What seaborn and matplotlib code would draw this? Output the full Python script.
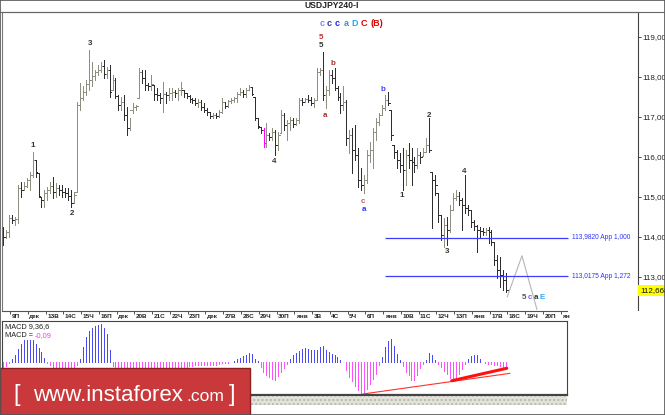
"""USDJPY H4 bar chart with Elliott wave marks and a MACD panel."""

import numpy as np
import matplotlib
matplotlib.use("Agg")
import matplotlib.pyplot as plt
import seaborn as sns
from matplotlib.patches import Rectangle
from matplotlib.lines import Line2D

W, H = 665, 415

# H4 bars
highs = [
    114.25, 114.18, 114.55, 114.55, 114.50, 115.30, 115.38, 115.38, 115.48, 115.63,
    116.13, 115.93, 115.60, 115.00, 115.18, 115.25, 115.38, 115.50, 115.35, 115.30,
    115.30, 115.23, 115.23, 115.18, 115.13, 117.38, 117.85, 117.78, 117.93, 118.68,
    118.38, 118.18, 118.30, 118.38, 118.43, 118.25, 118.30, 118.05, 117.98, 117.55,
    117.50, 117.55, 117.25, 116.98, 117.35, 117.30, 118.23, 118.18, 118.18, 117.85,
    118.05, 117.80, 117.73, 117.60, 117.88, 117.63, 117.73, 117.73, 117.68, 117.73,
    117.88, 117.68, 117.60, 117.55, 117.48, 117.48, 117.45, 117.43, 117.35, 117.23,
    117.13, 117.10, 117.10, 117.18, 117.48, 117.38, 117.43, 117.48, 117.50, 117.63,
    117.73, 117.68, 117.73, 117.80, 117.75, 117.50, 116.98, 116.75, 116.73, 116.85,
    116.60, 116.73, 116.68, 116.63, 117.18, 117.10, 116.93, 117.00, 116.98, 116.98,
    117.48, 117.48, 117.48, 117.55, 117.50, 117.48, 118.23, 118.23, 118.63, 117.78,
    118.18, 118.18, 118.23, 117.78, 117.60, 117.78, 117.43, 116.68, 116.73, 116.80,
    116.23, 115.73, 115.55, 116.18, 116.38, 116.73, 116.98, 117.10, 117.30, 117.55,
    117.63, 117.18, 116.30, 116.18, 116.10, 116.23, 116.18, 116.35, 116.23, 116.00,
    116.23, 116.13, 116.23, 116.48, 116.98, 115.63, 115.55, 115.10, 114.55, 114.48,
    114.50, 114.80, 115.10, 115.18, 115.13, 114.98, 115.55, 114.80, 114.68, 114.43,
    114.30, 114.25, 114.23, 114.23, 114.25, 114.18, 113.88, 113.55, 113.50, 113.18,
    113.10,
]
lows = [
    113.80, 113.98, 114.00, 114.35, 114.30, 114.35, 115.00, 115.18, 115.25, 115.18,
    115.50, 115.50, 115.00, 114.75, 114.75, 114.93, 115.10, 114.98, 115.00, 115.05,
    115.00, 115.00, 114.93, 114.75, 114.85, 115.13, 117.18, 117.43, 117.55, 117.68,
    117.78, 117.93, 118.05, 118.13, 117.98, 117.98, 117.50, 117.68, 117.48, 117.18,
    117.18, 116.93, 116.55, 116.68, 117.10, 117.18, 117.48, 117.85, 117.68, 117.68,
    117.68, 117.43, 117.43, 117.35, 117.13, 117.35, 117.43, 117.43, 117.50, 117.43,
    117.55, 117.50, 117.48, 117.38, 117.35, 117.30, 117.25, 117.18, 117.13, 117.05,
    116.98, 116.98, 116.98, 117.00, 117.10, 117.23, 117.25, 117.35, 117.38, 117.38,
    117.55, 117.50, 117.50, 117.68, 117.55, 116.93, 116.73, 116.60, 116.25, 116.25,
    116.43, 116.43, 116.05, 116.18, 116.60, 116.68, 116.43, 116.68, 116.75, 116.80,
    116.85, 117.30, 117.38, 117.38, 117.30, 117.25, 117.43, 118.05, 117.43, 117.23,
    117.55, 117.85, 117.68, 117.43, 117.10, 117.18, 116.30, 116.10, 115.60, 115.93,
    115.25, 115.18, 115.10, 115.35, 115.88, 115.73, 116.43, 116.80, 117.05, 117.18,
    117.30, 116.43, 115.98, 115.73, 115.63, 115.18, 115.30, 115.73, 115.30, 115.63,
    115.73, 115.85, 116.03, 116.13, 116.13, 114.23, 115.05, 114.38, 113.93, 113.75,
    113.80, 114.13, 114.68, 114.93, 114.80, 114.18, 114.60, 114.55, 114.25, 114.18,
    113.63, 114.00, 114.05, 114.05, 113.85, 113.80, 113.30, 112.98, 112.75, 112.68,
    112.63,
]
closes = [
    114.00, 114.13, 114.48, 114.43, 114.45, 115.23, 115.18, 115.28, 115.43, 115.55,
    115.93, 115.63, 115.03, 114.93, 115.10, 115.18, 115.28, 115.13, 115.23, 115.18,
    115.13, 115.10, 115.03, 114.85, 115.05, 117.30, 117.48, 117.63, 117.83, 117.93,
    118.03, 118.13, 118.18, 118.28, 118.08, 118.18, 117.63, 117.93, 117.53, 117.30,
    117.38, 117.05, 116.73, 117.18, 117.25, 117.28, 118.13, 117.98, 117.80, 117.78,
    117.83, 117.58, 117.55, 117.48, 117.58, 117.55, 117.60, 117.63, 117.60, 117.68,
    117.73, 117.60, 117.53, 117.45, 117.43, 117.35, 117.38, 117.25, 117.18, 117.13,
    117.03, 117.05, 117.03, 117.13, 117.38, 117.28, 117.40, 117.43, 117.48, 117.58,
    117.63, 117.58, 117.68, 117.75, 117.58, 116.98, 116.78, 116.68, 116.35, 116.55,
    116.50, 116.63, 116.30, 116.55, 117.05, 116.80, 116.85, 116.93, 116.83, 116.93,
    117.43, 117.38, 117.45, 117.43, 117.35, 117.43, 118.13, 118.18, 117.55, 117.68,
    118.05, 117.98, 117.73, 117.50, 117.30, 117.38, 116.48, 116.55, 116.18, 116.05,
    115.43, 115.30, 115.43, 116.05, 116.18, 116.63, 116.88, 117.05, 117.23, 117.43,
    117.35, 116.55, 116.13, 115.93, 115.80, 115.68, 116.05, 115.93, 115.88, 115.80,
    116.05, 116.00, 116.13, 116.30, 116.18, 115.43, 115.30, 114.55, 114.05, 114.30,
    114.18, 114.68, 114.98, 115.03, 114.93, 114.80, 114.73, 114.68, 114.38, 114.28,
    114.18, 114.15, 114.13, 114.18, 114.13, 113.88, 113.43, 113.18, 113.05, 112.93,
    112.668,
]
first_open = 114.20
magenta_bar = 88

# MACD histogram
macd = [
    -0.06, -0.05, -0.01, 0.04, 0.09, 0.17, 0.23, 0.28, 0.28, 0.28,
    0.28, 0.23, 0.18, 0.13, 0.05, -0.01, -0.04, -0.06, -0.09, -0.12,
    -0.13, -0.14, -0.14, -0.13, -0.10, -0.04, 0.04, 0.19, 0.32, 0.40,
    0.44, 0.46, 0.47, 0.49, 0.44, 0.36, 0.15, -0.05, -0.09, -0.12,
    -0.13, -0.14, -0.15, -0.15, -0.14, -0.13, -0.10, -0.09, -0.09, -0.10,
    -0.10, -0.12, -0.12, -0.12, -0.10, -0.09, -0.09, -0.08, -0.08, -0.06,
    -0.06, -0.06, -0.06, -0.05, -0.05, -0.04, -0.04, -0.04, -0.04, -0.04,
    -0.04, -0.04, -0.04, -0.03, -0.01, -0.01, -0.01, 0.0, 0.01, 0.04,
    0.05, 0.08, 0.09, 0.12, 0.10, 0.04, 0.01, -0.06, -0.13, -0.17,
    -0.19, -0.22, -0.23, -0.18, -0.13, -0.08, -0.03, 0.04, 0.09, 0.12,
    0.14, 0.17, 0.18, 0.17, 0.15, 0.15, 0.15, 0.19, 0.20, 0.15,
    0.13, 0.10, 0.09, 0.06, 0.03, 0.0, -0.10, -0.19, -0.24, -0.31,
    -0.36, -0.40, -0.38, -0.35, -0.28, -0.22, -0.15, -0.04, 0.06, 0.19,
    0.27, 0.29, 0.20, 0.10, 0.03, -0.05, -0.13, -0.17, -0.23, -0.23,
    -0.17, -0.08, -0.03, 0.03, 0.12, 0.09, 0.03, -0.03, -0.06, -0.12,
    -0.15, -0.20, -0.23, -0.20, -0.15, -0.09, -0.03, 0.04, 0.08, 0.09,
    0.09, 0.04, 0.0, -0.01, -0.03, -0.03, -0.04, -0.04, -0.05, -0.06,
    -0.09,
]

day_labels = ["9П", "дек", "13В", "14С", "15Ч", "16П", "дек", "20В", "21С", "22Ч",
              "23П", "дек", "27В", "28С", "29Ч", "30П", "янв", "3В", "4С", "5Ч",
              "6П", "янв", "10В", "11С", "12Ч", "13П", "янв", "17В", "18С", "19Ч",
              "20П", "ян"]
bars_per_day = 6
first_day_bar = 2.4

price_ticks = [113, 114, 115, 116, 117, 118, 119]
last_price = 112.668

level_prices = [113.982, 113.0175]
level_texts = ["113,9820 App 1,000", "113,0175 App 1,272"]
level_from, level_to = 129.0, 190.9

proj_bars = [170.3, 175.3, 180.4]
proj_prices = [112.50, 113.53, 112.18]

macd_thin_bars = [121.5, 171.3]
macd_thin_vals = [-0.41, -0.145]
macd_thick_bars = [151.6, 170.2]
macd_thick_vals = [-0.24, -0.08]

# wave marks: text, bar, price, colour
wave_marks = [
    ("1", 10.1, 116.28, "#333333"), ("2", 23.3, 114.60, "#333333"),
    ("3", 29.4, 118.85, "#333333"), ("4", 91.6, 115.88, "#333333"),
    ("5", 107.4, 119.00, "#c03030"), ("5", 107.4, 118.78, "#333333"),
    ("b", 111.5, 118.35, "#a83232"), ("a", 108.8, 117.05, "#a83232"),
    ("c", 121.6, 114.88, "#c06060"), ("a", 122.0, 114.68, "#3333ff"),
    ("b", 128.4, 117.68, "#4040ff"), ("1", 134.8, 115.05, "#333333"),
    ("2", 143.9, 117.03, "#333333"), ("3", 150.0, 113.63, "#333333"),
    ("4", 155.7, 115.63, "#333333"),
]
top_marks = [("c", 107.8, "#8080ff"), ("c", 110.1, "#333399"), ("c", 112.8, "#2222ee"),
             ("a", 115.9, "#3399cc"), ("D", 118.9, "#22aaee"), ("C", 122.0, "#dd0000"),
             ("(B)", 126.4, "#dd0000")]
top_marks_price = 119.33
end_marks = [("5", 176.0, "#555555"), ("c", 178.0, "#6666ff"),
             ("a", 180.0, "#333333"), ("E", 182.0, "#33aaee")]
end_marks_price = 112.50


def px_axes(fig, x0, y0, x1, y1):
    """Axes placed by pixel box (left, top, right, bottom)."""
    return fig.add_axes([x0 / W, 1 - y1 / H, (x1 - x0) / W, (y1 - y0) / H])


sns.set_theme(style="white")
plt.rcParams["font.family"] = ["Liberation Sans", "DejaVu Sans"]

fig = plt.figure(figsize=(W / 100, H / 100), dpi=100)
fig.patch.set_facecolor("white")

# ---- main price panel
ax = px_axes(fig, 2, 12, 638, 310)
ax.set_facecolor("white")
ax.set_xlim(-0.34, 214.5)
ax.set_ylim(112.175, 119.625)

idx = np.arange(len(highs))
hi = np.array(highs)
lo = np.array(lows)
cl = np.array(closes)
op = np.clip(np.r_[first_open, cl[:-1]], lo, hi)
cols = np.where(cl >= op, "#8f8f80", "#2e2e2e").astype("<U7")
cols[magenta_bar] = "#ff00ff"
ax.vlines(idx, lo, hi, colors=cols, linewidth=0.7, antialiased=False)
ax.hlines(op, idx - 0.6, idx, colors=cols, linewidth=0.7, antialiased=False)
ax.hlines(cl, idx, idx + 0.6, colors=cols, linewidth=0.7, antialiased=False)

sns.lineplot(x=proj_bars, y=proj_prices, ax=ax, color="#b5b5b5", linewidth=0.8,
             sort=False, estimator=None)

ax.hlines(level_prices, level_from, level_to, colors="#3c3cff", linewidth=0.9)
for p, t in zip(level_prices, level_texts):
    ax.text(level_to + 1.3, p, t, fontsize=4.8, color="#3030ff", va="center")

for t, b, p, c in wave_marks:
    ax.text(b, p, t, fontsize=5.8, color=c, ha="center", va="center", fontweight="bold")
for t, b, c in top_marks:
    ax.text(b, top_marks_price, t, fontsize=6.5, color=c, ha="center", va="center",
            fontweight="bold")
for t, b, c in end_marks:
    ax.text(b, end_marks_price, t, fontsize=5.8, color=c, ha="center", va="center",
            fontweight="bold")

ax.yaxis.tick_right()
ax.set_yticks(price_ticks)
ax.set_yticklabels([f"{v},000" for v in price_ticks])
ax.tick_params(axis="y", length=2.5, width=0.6, pad=1, labelsize=5.8,
               colors="#333333", labelcolor="#222222")
ax.set_xticks([])
for side, c in [("left", "#777777"), ("top", "#666666"), ("right", "#444444")]:
    ax.spines[side].set_color(c)
    ax.spines[side].set_linewidth(0.8)
ax.spines["bottom"].set_visible(False)

# current price box
fig.add_artist(Rectangle((638 / W, 1 - 296 / H), 27 / W, 11 / H,
                         transform=fig.transFigure, facecolor="#ffff00", edgecolor="none"))
fig.text(640 / W, 1 - 290.5 / H, f"{last_price:.3f}".replace(".", ","),
         fontsize=5.8, color="#111111", va="center")

fig.text(332 / W, 1 - 6 / H, "USDJPY240-I", fontsize=6.2, fontweight="bold",
         ha="center", va="center", color="#222222")
fig.add_artist(Line2D([0, 1], [1 - 12 / H, 1 - 12 / H], transform=fig.transFigure,
                      color="#666666", linewidth=0.8))

# ---- date row
axd = px_axes(fig, 2, 311, 567, 321)
axd.set_xlim(-0.34, 190.54)
axd.set_ylim(0, 1)
axd.set_facecolor("white")
tick_pos = [first_day_bar + bars_per_day * k for k in range(len(day_labels))]
axd.xaxis.tick_top()
axd.set_xticks(tick_pos)
axd.set_yticks([])
axd.tick_params(axis="x", direction="in", length=2.5, width=0.6, labeltop=False,
                labelbottom=False, colors="#333333")
for side in ["left", "right", "bottom"]:
    axd.spines[side].set_visible(False)
axd.spines["top"].set_color("#555555")
axd.spines["top"].set_linewidth(0.8)
for tp, lab in zip(tick_pos, day_labels):
    axd.text(tp + 0.5, 0.45, lab, fontsize=4.6, color="#222222", va="center",
             ha="left", fontweight="bold")

# ---- MACD panel
axm = px_axes(fig, 2, 321, 567, 395)
axm.set_xlim(-0.34, 190.54)
axm.set_ylim(-0.4224, 0.5248)
axm.set_facecolor("white")
mv = np.array(macd)
mcols = np.where(mv >= 0, "#4a4af2", "#ff50ff")
axm.vlines(idx, 0, mv, colors=mcols, linewidth=0.7, antialiased=False)
sns.lineplot(x=macd_thin_bars, y=macd_thin_vals, ax=axm, color="#ff3030",
             linewidth=0.8, sort=False, estimator=None)
sns.lineplot(x=macd_thick_bars, y=macd_thick_vals, ax=axm, color="#ff1010",
             linewidth=2.2, sort=False, estimator=None)
axm.set_xticks([])
axm.set_yticks([])
for side in axm.spines:
    axm.spines[side].set_color("#444444")
    axm.spines[side].set_linewidth(0.8)
axm.spines["bottom"].set_linewidth(1.6)
axm.text(0.005, 0.93, "MACD 9,36,6", transform=axm.transAxes, fontsize=5.3,
         color="#222222", va="center")
axm.text(0.005, 0.80, "MACD =", transform=axm.transAxes, fontsize=5.3,
         color="#222222", va="center")
axm.text(0.057, 0.80, "-0,09", transform=axm.transAxes, fontsize=5.3,
         color="#ff33ff", va="center")

# grey strip under the MACD panel
fig.add_artist(Rectangle((250 / W, 1 - 405 / H), 317 / W, 9 / H, transform=fig.transFigure,
                         facecolor="#e2e2da", edgecolor="#b8b8b0", hatch="....",
                         linewidth=0))

# ---- banner
fig.add_artist(Rectangle((0, 0), 250 / W, 47 / H, transform=fig.transFigure,
                         facecolor="#c9393b", edgecolor="#8a2020", linewidth=1))
fig.text(17 / W, 1 - 401 / H, "[", fontsize=17, color="white", ha="center",
         va="baseline")
fig.text(33 / W, 1 - 401 / H, "www.instaforex", fontsize=16, color="white",
         ha="left", va="baseline")
fig.text(186 / W, 1 - 401 / H, ".com", fontsize=12.5, color="white",
         ha="left", va="baseline")
fig.text(232 / W, 1 - 401 / H, "]", fontsize=17, color="white", ha="center",
         va="baseline")

fig.add_artist(Rectangle((0, 0), 1, 1, transform=fig.transFigure, fill=False,
                         edgecolor="#555555", linewidth=1.2))

fig.savefig("out.png", dpi=100, facecolor="white")
plt.close(fig)
